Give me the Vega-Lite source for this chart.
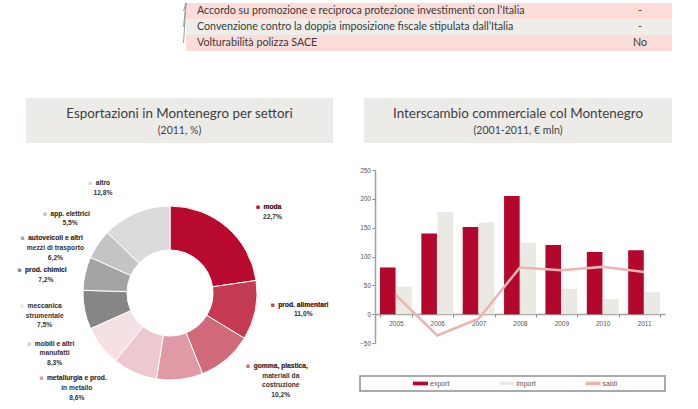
{
  "$schema": "https://vega.github.io/schema/vega-lite/v6.json",
  "padding": {"left": 0, "top": 2, "right": 0, "bottom": 0},
  "background": "white",
  "config": {"view": {"stroke": null}},
  "datasets": {
    "tabella": [
      {"riga": 1, "voce": "Accordo su promozione e reciproca protezione investimenti con l’Italia", "valore": "-"},
      {"riga": 2, "voce": "Convenzione contro la doppia imposizione fiscale stipulata dall’Italia", "valore": "-"},
      {"riga": 3, "voce": "Volturabilità polizza SACE", "valore": "No"}
    ],
    "settori": [
      {"settore": "moda", "etichetta": "moda", "quota": 22.7, "ordine": 1},
      {"settore": "prod. alimentari", "etichetta": "prod. alimentari", "quota": 11.0, "ordine": 2},
      {"settore": "gomma, plastica, materiali da costruzione", "etichetta": "gomma, plastica,\nmateriali da\ncostruzione", "quota": 10.2, "ordine": 3},
      {"settore": "metallurgia e prod. in metallo", "etichetta": "metallurgia e prod.\nin metallo", "quota": 8.6, "ordine": 4},
      {"settore": "mobili e altri manufatti", "etichetta": "mobili e altri\nmanufatti", "quota": 8.3, "ordine": 5},
      {"settore": "meccanica strumentale", "etichetta": "meccanica\nstrumentale", "quota": 7.5, "ordine": 6},
      {"settore": "prod. chimici", "etichetta": "prod. chimici", "quota": 7.2, "ordine": 7},
      {"settore": "autoveicoli e altri mezzi di trasporto", "etichetta": "autoveicoli e altri\nmezzi di trasporto", "quota": 6.2, "ordine": 8},
      {"settore": "app. elettrici", "etichetta": "app. elettrici", "quota": 5.5, "ordine": 9},
      {"settore": "altro", "etichetta": "altro", "quota": 12.8, "ordine": 10}
    ],
    "interscambio": [
      {"anno": "2005", "serie": "export", "valore": 81},
      {"anno": "2006", "serie": "export", "valore": 140},
      {"anno": "2007", "serie": "export", "valore": 151},
      {"anno": "2008", "serie": "export", "valore": 205},
      {"anno": "2009", "serie": "export", "valore": 120},
      {"anno": "2010", "serie": "export", "valore": 108},
      {"anno": "2011", "serie": "export", "valore": 111},
      {"anno": "2005", "serie": "import", "valore": 48},
      {"anno": "2006", "serie": "import", "valore": 177},
      {"anno": "2007", "serie": "import", "valore": 159},
      {"anno": "2008", "serie": "import", "valore": 124},
      {"anno": "2009", "serie": "import", "valore": 44},
      {"anno": "2010", "serie": "import", "valore": 26},
      {"anno": "2011", "serie": "import", "valore": 38},
      {"anno": "2005", "serie": "saldi", "valore": 33},
      {"anno": "2006", "serie": "saldi", "valore": -37},
      {"anno": "2007", "serie": "saldi", "valore": -8},
      {"anno": "2008", "serie": "saldi", "valore": 81},
      {"anno": "2009", "serie": "saldi", "valore": 76},
      {"anno": "2010", "serie": "saldi", "valore": 82},
      {"anno": "2011", "serie": "saldi", "valore": 73}
    ]
  },
  "resolve": {"scale": {"color": "independent", "theta": "independent", "x": "independent", "y": "independent"}},
  "spacing": 47,
  "vconcat": [
    {
      "width": 672,
      "height": 48,
      "data": {"name": "tabella"},
      "encoding": {
        "y": {"field": "riga", "type": "ordinal", "scale": {"type": "band", "paddingInner": 0, "paddingOuter": 0}, "axis": null}
      },
      "layer": [
        {
          "mark": {"type": "rect"},
          "encoding": {
            "x": {"datum": "tabella", "type": "nominal", "scale": {"type": "band", "domain": ["tabella"], "paddingInner": 0, "paddingOuter": 0.19136, "align": 1}, "axis": null},
            "color": {"field": "riga", "type": "ordinal", "scale": {"domain": [1, 2, 3], "range": ["#FADCD9", "#EEEDE9", "#FADCD9"]}, "legend": null}
          }
        },
        {
          "mark": {"type": "rule", "color": "#9A9A9A", "strokeWidth": 1},
          "encoding": {
            "x": {"datum": "tabella", "type": "nominal", "bandPosition": -0.005}
          }
        },
        {
          "mark": {"type": "text", "align": "left", "font": "Lato", "fontSize": 10.7, "color": "#3A3A3A"},
          "encoding": {
            "x": {"datum": "tabella", "type": "nominal", "bandPosition": 0.0226},
            "text": {"field": "voce"}
          }
        },
        {
          "mark": {"type": "text", "align": "center", "font": "Lato", "fontSize": 10.7, "color": "#3A3A3A"},
          "encoding": {
            "x": {"datum": "tabella", "type": "nominal", "bandPosition": 0.934},
            "text": {"field": "valore"}
          }
        }
      ]
    },
    {
      "spacing": 19,
      "resolve": {"scale": {"color": "independent", "theta": "independent", "x": "independent", "y": "independent"}},
      "hconcat": [
        {
          "spacing": 33,
          "resolve": {"scale": {"color": "independent", "theta": "independent", "x": "independent", "y": "independent"}},
          "vconcat": [
            {
              "width": 333,
              "height": 45,
              "data": {"values": [
                {"riga": "titolo", "testo": "Esportazioni in Montenegro per settori"},
                {"riga": "sottotitolo", "testo": "(2011, %)"}
              ]},
              "encoding": {
                "x": {"datum": "riquadro", "type": "nominal", "scale": {"type": "band", "domain": ["riquadro"], "paddingInner": 0, "paddingOuter": 0.04235, "align": 1}, "axis": null}
              },
              "layer": [
                {"transform": [{"filter": "datum.riga === 'titolo'"}], "mark": {"type": "rect", "color": "#EDEBE7"}},
                {"transform": [{"filter": "datum.riga === 'titolo'"}], "mark": {"type": "text", "font": "Lato", "fontSize": 13.4, "color": "#404040"},
                 "encoding": {"y": {"field": "riga", "type": "nominal", "scale": {"type": "point", "domain": ["titolo", "sottotitolo"], "padding": 0.824, "align": 0.571}, "axis": null}, "text": {"field": "testo"}}},
                {"transform": [{"filter": "datum.riga === 'sottotitolo'"}], "mark": {"type": "text", "font": "Lato", "fontSize": 10.5, "color": "#404040"},
                 "encoding": {"y": {"field": "riga", "type": "nominal", "scale": {"type": "point", "domain": ["titolo", "sottotitolo"], "padding": 0.824, "align": 0.571}, "axis": null}, "text": {"field": "testo"}}}
              ]
            },
            {
              "width": 340,
              "height": 234,
              "data": {"name": "settori"},
              "transform": [
                {"calculate": "datum.etichetta + '\\n' + replace(format(datum.quota, '.1f'), '.', ',') + '%'", "as": "testo"},
                {"calculate": "'■\u00a0\u00a0' + split(datum.etichetta, '\\n')[0]", "as": "riquadro"}
              ],
              "encoding": {
                "theta": {"field": "quota", "type": "quantitative", "stack": true},
                "order": {"field": "ordine", "type": "quantitative"}
              },
              "resolve": {"scale": {"theta": "independent"}},
              "layer": [
                {
                  "mark": {"type": "arc", "innerRadius": 43, "outerRadius": 87, "stroke": "white", "strokeWidth": 1},
                  "encoding": {
                    "color": {"field": "settore", "type": "nominal", "legend": null, "scale": {
                      "domain": ["moda", "prod. alimentari", "gomma, plastica, materiali da costruzione", "metallurgia e prod. in metallo", "mobili e altri manufatti", "meccanica strumentale", "prod. chimici", "autoveicoli e altri mezzi di trasporto", "app. elettrici", "altro"],
                      "range": ["#B70A2E", "#C43A53", "#D0697A", "#DF9AA5", "#EDC8CE", "#F5E1E4", "#868686", "#A4A4A4", "#C4C4C4", "#DBDBDB"]}}
                  }
                },
                {
                  "mark": {"type": "text", "radius": 130, "align": "center", "baseline": "top", "dy": -4, "font": "Liberation Sans", "fontWeight": "bold", "fontSize": 6.7},
                  "encoding": {
                    "theta": {"field": "quota", "type": "quantitative", "stack": true, "scale": {"domain": [0, 38.8, 48.2, 100], "range": [0.3159, 2.1764, 3.9846, 5.9481]}},
                    "text": {"field": "riquadro"},
                    "color": {"field": "settore", "type": "nominal", "legend": null, "scale": {
                      "domain": ["moda", "prod. alimentari", "gomma, plastica, materiali da costruzione", "metallurgia e prod. in metallo", "mobili e altri manufatti", "meccanica strumentale", "prod. chimici", "autoveicoli e altri mezzi di trasporto", "app. elettrici", "altro"],
                      "range": ["#B70A2E", "#C43A53", "#D0697A", "#DF9AA5", "#EDC8CE", "#F5E1E4", "#868686", "#A4A4A4", "#C4C4C4", "#DBDBDB"]}}
                  }
                },
                {
                  "mark": {"type": "text", "radius": 130, "align": "center", "baseline": "top", "dy": -4, "dx": 3.9, "lineBreak": "\n", "lineHeight": 9.6, "font": "Liberation Sans", "fontWeight": "bold", "fontSize": 6.7, "color": "#333333"},
                  "encoding": {
                    "theta": {"field": "quota", "type": "quantitative", "stack": true, "scale": {"domain": [0, 38.8, 48.2, 100], "range": [0.3159, 2.1764, 3.9846, 5.9481]}},
                    "text": {"field": "testo"}
                  }
                }
              ]
            }
          ]
        },
        {
          "spacing": 24,
          "resolve": {"scale": {"x": "independent", "y": "independent"}},
          "vconcat": [
            {
              "width": 312,
              "height": 45,
              "data": {"values": [
                {"riga": "titolo", "testo": "Interscambio commerciale col Montenegro"},
                {"riga": "sottotitolo", "testo": "(2001-2011, € mln)"}
              ]},
              "encoding": {
                "x": {"datum": "riquadro", "type": "nominal", "scale": {"type": "band", "domain": ["riquadro"], "paddingInner": 0, "paddingOuter": 0.0065, "align": 1}, "axis": null}
              },
              "layer": [
                {"transform": [{"filter": "datum.riga === 'titolo'"}], "mark": {"type": "rect", "color": "#EDEBE7"}},
                {"transform": [{"filter": "datum.riga === 'titolo'"}], "mark": {"type": "text", "font": "Lato", "fontSize": 13.4, "color": "#404040"},
                 "encoding": {"y": {"field": "riga", "type": "nominal", "scale": {"type": "point", "domain": ["titolo", "sottotitolo"], "padding": 0.824, "align": 0.571}, "axis": null}, "text": {"field": "testo"}}},
                {"transform": [{"filter": "datum.riga === 'sottotitolo'"}], "mark": {"type": "text", "font": "Lato", "fontSize": 10.5, "color": "#404040"},
                 "encoding": {"y": {"field": "riga", "type": "nominal", "scale": {"type": "point", "domain": ["titolo", "sottotitolo"], "padding": 0.824, "align": 0.571}, "axis": null}, "text": {"field": "testo"}}}
              ]
            },
            {
              "spacing": 28,
              "resolve": {"scale": {"x": "independent", "y": "independent"}},
              "vconcat": [
                {
                  "width": 305,
                  "height": 173,
                  "data": {"name": "interscambio"},
                  "encoding": {
                    "x": {
                      "field": "anno", "type": "ordinal",
                      "scale": {"range": [15, 305], "paddingInner": 0.23, "paddingOuter": 0.12},
                      "axis": {"title": null, "labelAngle": 0, "offset": -29, "tickBand": "extent", "tickSize": 3, "tickColor": "#888888", "domainColor": "#A0A0A0", "domainWidth": 1.5, "labelFont": "Liberation Sans", "labelFontSize": 6.5, "labelColor": "#555555", "labelPadding": 3}
                    },
                    "y": {
                      "field": "valore", "type": "quantitative",
                      "scale": {"domain": [-50, 250], "nice": false, "zero": false},
                      "axis": {"title": null, "values": [-50, 0, 50, 100, 150, 200, 250], "offset": -15, "tickSize": 3, "tickColor": "#888888", "domainColor": "#A0A0A0", "domainWidth": 1.5, "labelFont": "Liberation Sans", "labelFontSize": 6.5, "labelColor": "#555555", "labelPadding": 1.5, "grid": false}
                    }
                  },
                  "layer": [
                    {
                      "transform": [{"filter": "datum.serie !== 'saldi'"}],
                      "mark": {"type": "bar"},
                      "encoding": {
                        "xOffset": {"field": "serie", "type": "nominal", "scale": {"domain": ["export", "import"], "paddingInner": 0.04}},
                        "color": {"field": "serie", "type": "nominal", "legend": null, "scale": {"domain": ["export", "import", "saldi"], "range": ["#B4072D", "#EBE9E4", "#E8B5B1"]}}
                      }
                    },
                    {
                      "transform": [{"filter": "datum.serie === 'saldi'"}],
                      "mark": {"type": "line", "strokeWidth": 2.5},
                      "encoding": {
                        "color": {"field": "serie", "type": "nominal", "legend": null, "scale": {"domain": ["export", "import", "saldi"], "range": ["#B4072D", "#EBE9E4", "#E8B5B1"]}}
                      }
                    }
                  ]
                },
                {
                  "width": 305,
                  "height": 15,
                  "view": {"stroke": "#8E8E8E", "strokeWidth": 1.5},
                  "data": {"name": "interscambio"},
                  "transform": [{"aggregate": [{"op": "count", "as": "n"}], "groupby": ["serie"]}],
                  "encoding": {
                    "x": {"field": "serie", "type": "nominal", "scale": {"type": "point", "domain": ["export", "import", "saldi"], "padding": 0.767, "align": 0.457}, "axis": null}
                  },
                  "layer": [
                    {
                      "mark": {"type": "point", "shape": "M-1,-0.25L1,-0.25L1,0.25L-1,0.25Z", "size": 225, "filled": true, "opacity": 1},
                      "encoding": {
                        "color": {"field": "serie", "type": "nominal", "legend": null, "scale": {"domain": ["export", "import", "saldi"], "range": ["#B4072D", "#EBE9E4", "#E8B5B1"]}}
                      }
                    },
                    {
                      "mark": {"type": "text", "align": "left", "dx": 9.5, "font": "Liberation Sans", "fontSize": 7, "color": "#555555"},
                      "encoding": {"text": {"field": "serie"}}
                    }
                  ]
                }
              ]
            }
          ]
        }
      ]
    }
  ]
}
